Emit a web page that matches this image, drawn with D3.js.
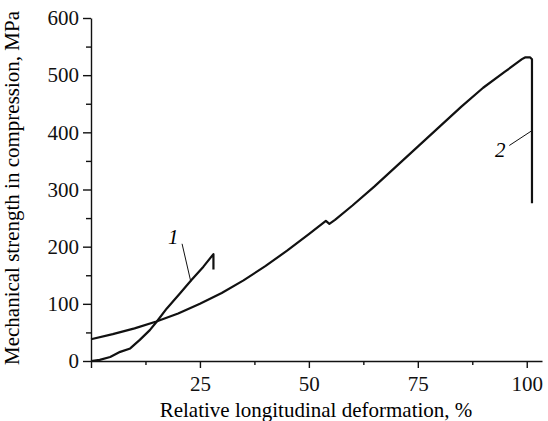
<!DOCTYPE html>
<html>
<head>
<meta charset="utf-8">
<script src="https://cdn.jsdelivr.net/npm/d3@7"></script>
<style>
  body { margin: 0; background: #fff; }
  svg { display: block; }
  .axis path, .axis line { stroke: #111; stroke-width: 1.4; }
  .axis text { font-family: "Liberation Serif", serif; font-size: 21px; fill: #111; }
</style>
</head>
<body>
<svg id="chart" width="548" height="421"></svg>
<script>
// curve 1
const deform1 = [0, 2, 4.4, 6.7, 9, 11.2, 13.5, 15.2, 17.4, 20.4, 23.1, 25.8, 28.1, 28.1];
const strength1 = [0, 2, 7, 16, 22, 37, 54, 70, 92, 118, 142, 165, 187, 160];

// curve 2
const deform2 = [0, 5, 10, 15, 20, 25, 30, 35, 40, 45, 50, 53.9, 54.7, 56, 60, 65, 70, 75, 80, 85, 90, 95, 98.9, 99.6, 100.8, 101.2, 101.2];
const strength2 = [38, 47, 57, 69, 83, 100, 119, 141, 166, 193, 222, 245, 240, 247, 272, 305, 340, 375, 410, 445, 478, 506, 528, 531, 531, 528, 276];

const xTicks = [0, 25, 50, 75, 100];
const xMinor = [12.5, 37.5, 62.5, 87.5];
const yTicks = [0, 100, 200, 300, 400, 500, 600];
const yMinor = [50, 150, 250, 350, 450, 550];

// curve labels: [text, label x, label y, leader from x,y, leader to x,y] in data units
const curveLabels = [
  ["1", 18.9, 217, 20.9, 205, 22.9, 139],
  ["2", 93.9, 369, 96.0, 377, 101.2, 403]
];

const svg = d3.select("#chart");
const width = 548, height = 421;
const margin = {top: 18, right: 6, bottom: 60, left: 91};

const x = d3.scaleLinear().domain([0, 103.5]).range([margin.left, width - margin.right]);
const y = d3.scaleLinear().domain([0, 600]).range([height - margin.bottom, margin.top]);

// minor ticks
svg.append("g")
    .attr("class", "axis")
    .attr("transform", `translate(0, ${y(0)})`)
    .call(d3.axisBottom(x).tickValues(xMinor).tickSize(4).tickFormat(""))
    .select(".domain").remove();
svg.append("g")
    .attr("class", "axis")
    .attr("transform", `translate(${x(0)}, 0)`)
    .call(d3.axisLeft(y).tickValues(yMinor).tickSize(5).tickFormat(""))
    .select(".domain").remove();

svg.append("g")
    .attr("class", "axis")
    .attr("transform", `translate(0, ${y(0)})`)
    .call(d3.axisBottom(x).tickValues(xTicks).tickSize(7).tickSizeOuter(0).tickPadding(8)
        .tickFormat(d => d === 0 ? "" : d));

svg.append("g")
    .attr("class", "axis")
    .attr("transform", `translate(${x(0)}, 0)`)
    .call(d3.axisLeft(y).tickValues(yTicks).tickSize(8).tickSizeOuter(0).tickPadding(4));

// axis titles
svg.append("text")
    .attr("x", 316)
    .attr("y", 417)
    .attr("text-anchor", "middle")
    .style("font-family", "Liberation Serif, serif")
    .style("font-size", "21px")
    .text("Relative longitudinal deformation, %");

svg.append("text")
    .attr("transform", `translate(19, 188) rotate(-90)`)
    .attr("text-anchor", "middle")
    .style("font-family", "Liberation Serif, serif")
    .style("font-size", "21px")
    .text("Mechanical strength in compression, MPa");

const line = d3.line()
    .x(d => x(d[0]))
    .y(d => y(d[1]));

svg.append("path")
    .datum(d3.zip(deform1, strength1))
    .attr("fill", "none")
    .attr("stroke", "#111")
    .attr("stroke-width", 2.2)
    .attr("stroke-linejoin", "round")
    .attr("d", line);

svg.append("path")
    .datum(d3.zip(deform2, strength2))
    .attr("fill", "none")
    .attr("stroke", "#111")
    .attr("stroke-width", 2.2)
    .attr("stroke-linejoin", "round")
    .attr("d", line);

// labels with leader lines
curveLabels.forEach(l => {
    svg.append("line")
        .attr("x1", x(l[3])).attr("y1", y(l[4]))
        .attr("x2", x(l[5])).attr("y2", y(l[6]))
        .attr("stroke", "#111")
        .attr("stroke-width", 1);
    svg.append("text")
        .attr("x", x(l[1]))
        .attr("y", y(l[2]))
        .attr("dy", "0.35em")
        .attr("text-anchor", "middle")
        .style("font-family", "Liberation Serif, serif")
        .style("font-style", "italic")
        .style("font-size", "21px")
        .text(l[0]);
});
</script>
</body>
</html>
